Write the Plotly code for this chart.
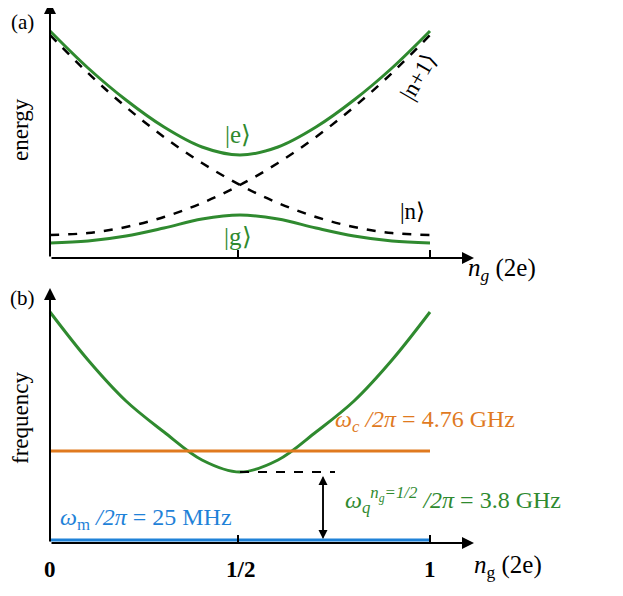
import plotly.graph_objects as go

# page body adds an 8px margin, so the figure is drawn 8px smaller and all
# reference pixel positions are shifted by OFF
OFF = 8
W, H = 623 - OFF, 596 - OFF

# charge number grid
ng = [0.0, 0.1, 0.2, 0.3, 0.4, 0.5, 0.6, 0.7, 0.8, 0.9, 1.0]

# top panel (energy, arbitrary units)
e_n = [223, 185, 151, 121, 95, 73, 55, 41, 31, 25, 23]
e_n1 = [23, 25, 31, 41, 55, 73, 95, 121, 151, 185, 223]
e_exc = [227, 190, 158, 131, 111, 103, 111, 131, 158, 190, 227]
e_gnd = [15, 17, 22, 30, 39, 43, 39, 30, 22, 17, 15]

# bottom panel (frequency, arbitrary units)
f_q = [231, 183, 142, 111, 83, 71, 83, 111, 142, 183, 231]
f_c = 92
f_m = 3

GREEN = "#2f8a2f"
ORANGE = "#e07a1f"
BLUE = "#1f82d8"
FONT = "Liberation Serif"

fig = go.Figure()

def line(x, y, yax, color, dash="solid", width=3):
    fig.add_trace(go.Scatter(x=x, y=y, yaxis=yax, mode="lines", line=dict(color=color, width=width, dash=dash, shape="spline", smoothing=1.0), showlegend=False, hoverinfo="skip"))

line(ng, e_n, "y", "black", "dash", 2.5)
line(ng, e_n1, "y", "black", "dash", 2.5)
line(ng, e_exc, "y", GREEN)
line(ng, e_gnd, "y", GREEN)

line(ng, f_q, "y2", GREEN)
line([0, 1], [f_c, f_c], "y2", ORANGE)
line([0, 1], [f_m, f_m], "y2", BLUE)
line([0.5, 0.75], [f_q[5], f_q[5]], "y2", "black", "dash", 2)

# reference pixel mapping: x px = 50 + 380*ng
x0 = -(50 - OFF) / 380
x1 = (W - (50 - OFF)) / 380
fig.update_layout(
    width=W, height=H, margin=dict(l=0, r=0, t=0, b=0),
    plot_bgcolor="white", paper_bgcolor="white",
    xaxis=dict(range=[x0, x1], visible=False, domain=[0, 1]),
    yaxis=dict(range=[258 - OFF - H, 258 - OFF], visible=False, domain=[0, 1]),
    yaxis2=dict(range=[543 - OFF - H, 543 - OFF], visible=False, overlaying="y", domain=[0, 1]),
)

def px(x, y):
    return (x - OFF) / W, 1 - (y - OFF) / H

def arrow(xa, ya, xb, yb, both=False, width=2):
    ax_, ay_ = px(xa, ya)
    bx, by = px(xb, yb)
    pairs = [((ax_, ay_), (bx, by))]
    if both:
        pairs.append(((bx, by), (ax_, ay_)))
    for (sx, sy), (tx, ty) in pairs:
        fig.add_annotation(x=tx, y=ty, ax=sx, ay=sy, xref="x domain", yref="y domain",
                           axref="x domain", ayref="y domain",
                           showarrow=True, arrowhead=2, arrowsize=1.2, arrowwidth=width,
                           arrowcolor="black", text="")

# axes
arrow(50, 258, 474, 258)
arrow(50, 258, 50, 2)
arrow(50, 543, 474, 543)
arrow(50, 543, 50, 288)
arrow(323, 476, 323, 539, both=True, width=1.5)
for xp, yp in [(238, 258), (430, 258), (238, 543), (430, 543)]:
    X, Y = px(xp, yp)
    fig.add_shape(type="line", xref="paper", yref="paper", x0=X, x1=X, y0=Y, y1=Y + 8 / H, line=dict(color="black", width=2))

def text(x, y, s, color="black", size=24, angle=0, anchor="center"):
    X, Y = px(x, y)
    fig.add_annotation(x=X, y=Y, xref="paper", yref="paper", text=s, showarrow=False, textangle=angle,
                       xanchor=anchor, yanchor="middle", font=dict(family=FONT, size=size, color=color))

text(22, 22, "(a)", size=21)
text(20, 130, "energy", angle=-90, size=23)
text(238, 134, "|e⟩", GREEN, 25)
text(238, 236, "|g⟩", GREEN, 25)
text(418, 76, "|n+1⟩", angle=-60, size=23)
text(412, 212, "|n⟩", size=23)
text(502, 270, "<i>n<sub>g</sub></i> (2e)", size=25)
text(22, 298, "(b)", size=21)
text(20, 418, "frequency", angle=-90, size=23)
text(333, 421, "<i>ω<sub>c</sub> /2π</i> = 4.76 GHz", ORANGE, 24, anchor="left")
text(343, 500, "<i>ω<sub>q</sub><sup>n<sub>g</sub>=1/2</sup> /2π</i> = 3.8 GHz", GREEN, 24, anchor="left")
text(58, 519, "<i>ω</i><sub>m</sub> <i>/2π</i> = 25 MHz", BLUE, 24, anchor="left")
text(50, 569, "<b>0</b>", size=23)
text(240, 569, "<b>1/2</b>", size=23)
text(430, 569, "<b>1</b>", size=23)
text(508, 566, "<i>n</i><sub>g</sub> (2e)", size=25)

fig.write_html("out.html")
